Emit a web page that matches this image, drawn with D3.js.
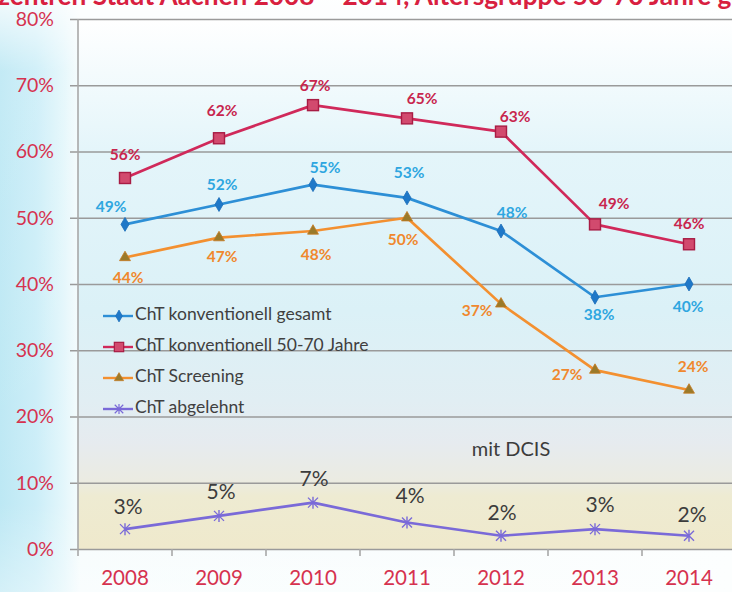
<!DOCTYPE html>
<html>
<head>
<meta charset="utf-8">
<script src="https://cdn.jsdelivr.net/npm/d3@7"></script>
<style>
  html, body { margin: 0; padding: 0; background: #ffffff; }
  svg { display: block; }
  text { font-family: Lato, "Open Sans", sans-serif; }
</style>
</head>
<body>
<svg id="chart" width="732" height="592"></svg>
<script>
// Chemotherapy rates, Aachen breast centres, 2008–2014 (percent)
const years = ["2008", "2009", "2010", "2011", "2012", "2013", "2014"];
const chtGesamt    = [49, 52, 55, 53, 48, 38, 40];
const cht5070      = [56, 62, 67, 65, 63, 49, 46];
const chtScreening = [44, 47, 48, 50, 37, 27, 24];
const chtAbgelehnt = [3, 5, 7, 4, 2, 3, 2];
const seriesNames = [
  "ChT konventionell gesamt",
  "ChT konventionell 50-70 Jahre",
  "ChT Screening",
  "ChT abgelehnt"
];
const yTicks = [0, 10, 20, 30, 40, 50, 60, 70, 80];
const titleText = "Brustzentren Stadt Aachen 2008 \u2013 2014, Altersgruppe 50-70 Jahre gesamt";
const noteText = "mit DCIS";

const svg = d3.select("#chart");
const W = 732, H = 592;
const plot = { left: 78, right: 736, top: 19, bottom: 549 };

const x = d3.scaleBand().domain(years).range([plot.left, plot.right]).padding(0);
const y = d3.scaleLinear().domain([0, 80]).range([plot.bottom, plot.top]);
const cx = d => x(d) + x.bandwidth() / 2;

// ---- gradients ----
const defs = svg.append("defs");
const pageGrad = defs.append("linearGradient").attr("id", "pageGrad")
  .attr("x1", 0).attr("x2", 1).attr("y1", 0).attr("y2", 0);
[
  [0.00, "#bde8f4"],
  [0.05, "#cceef8"],
  [0.085, "#e2f6fb"],
  [0.11, "#f6fcfd"],
  [1.00, "#fbfefe"]
].forEach(([o, c]) => pageGrad.append("stop").attr("offset", o).attr("stop-color", c));

const pageFade = defs.append("linearGradient").attr("id", "pageFade")
  .attr("x1", 0).attr("x2", 0).attr("y1", 0).attr("y2", 1);
pageFade.append("stop").attr("offset", "0").attr("stop-color", "#ffffff").attr("stop-opacity", 0.8);
pageFade.append("stop").attr("offset", "0.12").attr("stop-color", "#ffffff").attr("stop-opacity", 0.1);
pageFade.append("stop").attr("offset", "0.85").attr("stop-color", "#ffffff").attr("stop-opacity", 0.0);
pageFade.append("stop").attr("offset", "1").attr("stop-color", "#ffffff").attr("stop-opacity", 0.35);

const plotGrad = defs.append("linearGradient").attr("id", "plotGrad")
  .attr("x1", 0).attr("x2", 0).attr("y1", 0).attr("y2", 1);
[
  [0.00, "#ffffff"],
  [0.10, "#f4fbfd"],
  [0.25, "#e4f5fa"],
  [0.55, "#dbf1f7"],
  [0.72, "#e1eef3"],
  [0.80, "#e6ebef"],
  [0.87, "#ebebe2"],
  [0.90, "#eeebd2"],
  [1.00, "#efe9cc"]
].forEach(([o, c]) => plotGrad.append("stop").attr("offset", o).attr("stop-color", c));

svg.append("rect").attr("width", W).attr("height", H).attr("fill", "url(#pageGrad)");
svg.append("rect").attr("width", W).attr("height", H).attr("fill", "url(#pageFade)");

svg.append("rect")
  .attr("x", plot.left).attr("y", plot.top)
  .attr("width", plot.right - plot.left).attr("height", plot.bottom - plot.top)
  .attr("fill", "url(#plotGrad)");

// ---- title (runs off both edges) ----
const title = svg.append("text")
  .attr("y", 5)
  .attr("fill", "#d8203f")
  .attr("font-weight", "bold")
  .attr("font-size", 20)
  .text(titleText);
{
  const node = title.node();
  const iz = titleText.indexOf("zentren");
  const ig = titleText.lastIndexOf("gesamt");
  const span = node.getSubStringLength(iz, ig - iz);
  const size = 20 * 720 / span;
  title.attr("font-size", size);
  const off = node.getSubStringLength(0, iz);
  title.attr("x", -off - 2);
}

// ---- y axis and grid ----
const yAxis = d3.axisLeft(y).tickValues(yTicks).tickSize(plot.right - plot.left + 8)
  .tickFormat(d => d + "%");
const yg = svg.append("g").attr("transform", `translate(${plot.right},0)`).call(yAxis);
yg.select(".domain").remove();
yg.selectAll(".tick line").attr("stroke", "#9a9a9a").attr("stroke-width", 1.6);
yg.selectAll(".tick text")
  .attr("x", -(plot.right - plot.left) - 24)
  .attr("fill", "#d6324f")
  .attr("font-size", 19.5)
  .attr("font-family", "Lato, sans-serif");

// left axis line
svg.append("line")
  .attr("x1", plot.left).attr("x2", plot.left)
  .attr("y1", plot.top).attr("y2", plot.bottom)
  .attr("stroke", "#a8a8a8").attr("stroke-width", 1.6);

// ---- x axis ----
const xAxis = d3.axisBottom(x).tickSize(0).tickPadding(21);
const xg = svg.append("g").attr("transform", `translate(0,${plot.bottom})`).call(xAxis);
xg.select(".domain").remove();
xg.selectAll(".tick text")
  .attr("fill", "#d6324f")
  .attr("font-size", 20.5)
  .attr("font-family", "Lato, sans-serif");
// category separators
const boundaries = years.map(d => x(d)).concat([x(years[years.length - 1]) + x.bandwidth()]);
xg.selectAll("line.sep").data(boundaries).join("line").attr("class", "sep")
  .attr("x1", d => d).attr("x2", d => d)
  .attr("y1", 0).attr("y2", 7)
  .attr("stroke", "#a8a8a8").attr("stroke-width", 1.6);

// ---- series ----
const series = [
  { name: seriesNames[0], values: chtGesamt, color: "#2d8fd6", marker: "diamond",
    labelColor: "#2ea6e0", labelSize: 15.5, labelWeight: "bold",
    labelOffsets: [[-14, -16], [3, -18], [12, -16], [2, -24], [11, -17], [4, 19], [-1, 24]] },
  { name: seriesNames[1], values: cht5070, color: "#d0295a", marker: "square",
    labelColor: "#c8264e", labelSize: 15.5, labelWeight: "bold",
    labelOffsets: [[0, -22], [3, -26], [2, -18], [15, -18], [14, -14], [19, -19], [0, -19]] },
  { name: seriesNames[2], values: chtScreening, color: "#f39030", marker: "triangle",
    labelColor: "#f0882e", labelSize: 15.5, labelWeight: "bold",
    labelOffsets: [[3, 22], [3, 20], [3, 25], [-4, 23], [-24, 8], [-28, 6], [4, -22]] },
  { name: seriesNames[3], values: chtAbgelehnt, color: "#7a6ad8", marker: "cross",
    labelColor: "#3c3c3c", labelSize: 21, labelWeight: "normal",
    labelOffsets: [[3, -20], [2, -22], [1, -22], [3, -25], [1, -21], [5, -22], [3, -19]] }
];

const line = d3.line().x(d => cx(d.year)).y(d => y(d.value));

function drawMarker(g, type, color) {
  if (type === "diamond") {
    g.append("path").attr("d", d3.symbol(d3.symbolDiamond, 56)())
      .attr("fill", "#1f78c8").attr("stroke", "#1a6cb8").attr("stroke-width", 0.8);
  } else if (type === "square") {
    g.append("rect").attr("x", -5.5).attr("y", -5.5).attr("width", 11).attr("height", 11)
      .attr("fill", "#d24a6e").attr("stroke", "#a81c44").attr("stroke-width", 1.4);
  } else if (type === "triangle") {
    g.append("path").attr("d", d3.symbol(d3.symbolTriangle, 52)())
      .attr("fill", "#9a7a2a").attr("stroke", "#c87a20").attr("stroke-width", 0.8);
  } else {
    g.append("path").attr("d", "M-5,-5L5,5M-5,5L5,-5M0,-6L0,6")
      .attr("stroke", color).attr("stroke-width", 1.4).attr("fill", "none");
  }
}

series.forEach(s => {
  const pts = years.map((yr, i) => ({ year: yr, value: s.values[i], i }));
  svg.append("path").datum(pts)
    .attr("fill", "none").attr("stroke", s.color).attr("stroke-width", 2.7)
    .attr("stroke-linejoin", "round")
    .attr("d", line);
  const mg = svg.append("g");
  pts.forEach(p => {
    const g = mg.append("g").attr("transform", `translate(${cx(p.year)},${y(p.value)})`);
    drawMarker(g, s.marker, s.color);
  });
  svg.append("g").selectAll("text").data(pts).join("text")
    .attr("x", p => cx(p.year) + s.labelOffsets[p.i][0])
    .attr("y", p => y(p.value) + s.labelOffsets[p.i][1])
    .attr("text-anchor", "middle")
    .attr("dominant-baseline", "middle")
    .attr("fill", s.labelColor)
    .attr("font-size", s.labelSize)
    .attr("font-weight", s.labelWeight)
    .text(p => p.value + "%");
});

// ---- legend ----
const legend = svg.append("g").attr("transform", "translate(103,316)");
series.forEach((s, i) => {
  const g = legend.append("g").attr("transform", `translate(0,${i * 31})`);
  g.append("line").attr("x1", 0).attr("x2", 30).attr("y1", 0).attr("y2", 0)
    .attr("stroke", s.color).attr("stroke-width", 2.4);
  const m = g.append("g").attr("transform", "translate(16,0) scale(0.85)");
  drawMarker(m, s.marker, s.color);
  g.append("text").attr("x", 32).attr("y", 0)
    .attr("dominant-baseline", "middle")
    .attr("fill", "#404040").attr("font-size", 17.5)
    .text(s.name);
});

// ---- note ----
svg.append("text")
  .attr("x", 511).attr("y", 451)
  .attr("text-anchor", "middle").attr("dominant-baseline", "middle")
  .attr("fill", "#3c3c3c").attr("font-size", 20)
  .text(noteText);
</script>
</body>
</html>
